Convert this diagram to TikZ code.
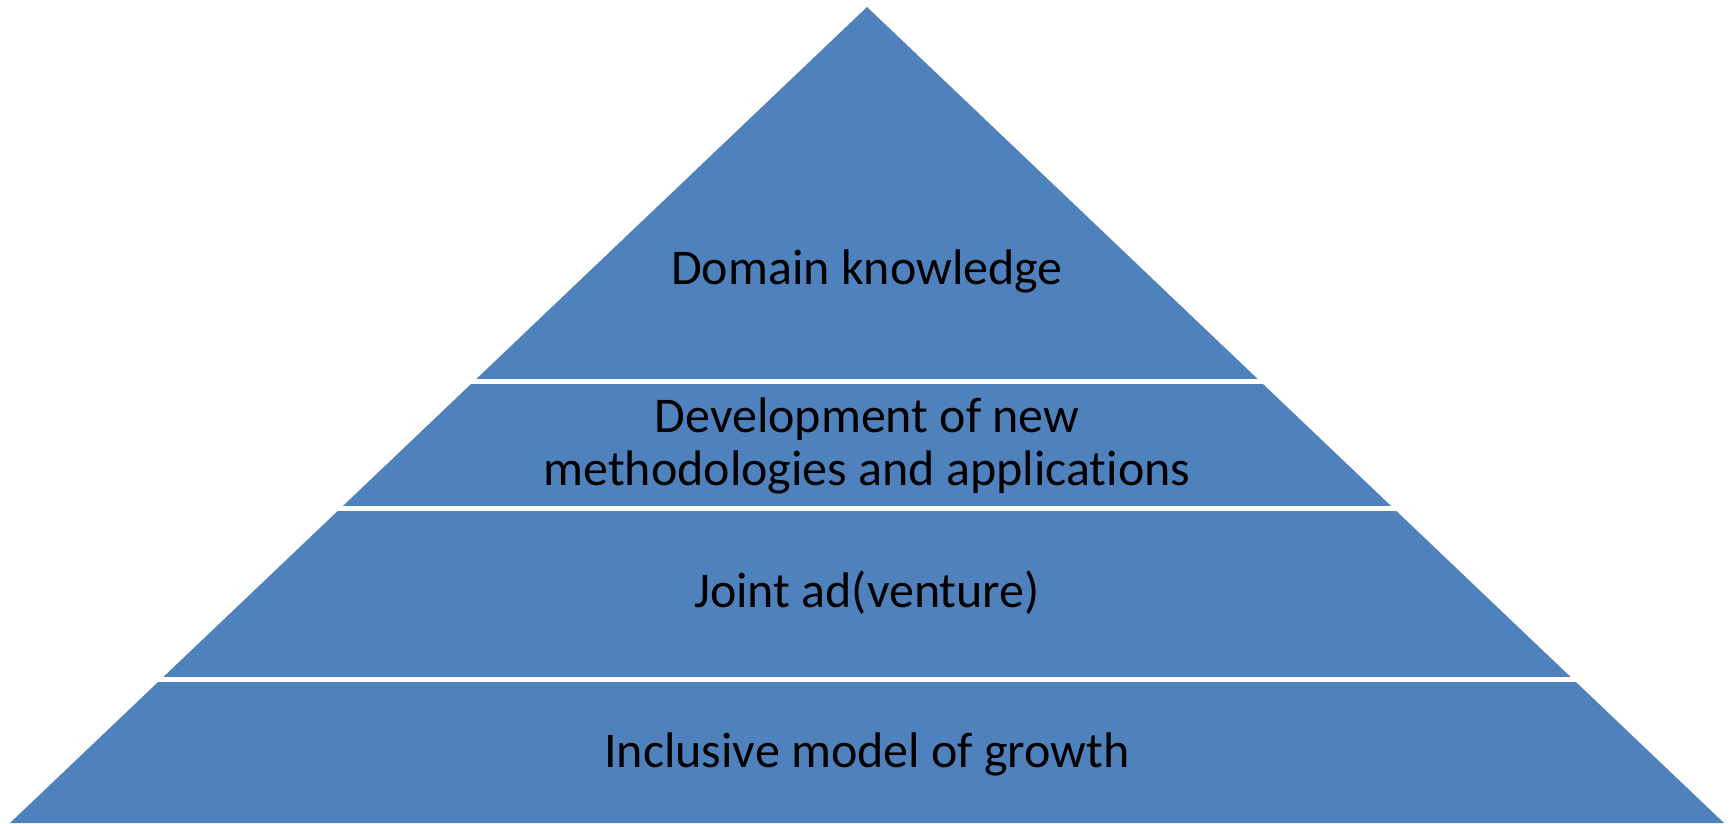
\documentclass[tikz,border=0pt]{standalone}
\usepackage{fontspec}
\setmainfont{Carlito}[Ligatures=NoCommon]
\definecolor{pyrblue}{HTML}{4F81BD}
\tikzset{
  lbl/.style={anchor=base, text=black, inner sep=0pt, align=center, font=\fontsize{50}{53}\selectfont},
  gap/.style={fill=white, draw=none}
}
\begin{document}
\begin{tikzpicture}[x=1pt, y=-1pt]
\useasboundingbox (0,0) rectangle (1730,823);
\fill[white] (0,0) rectangle (1730,823);
% pyramid
\fill[pyrblue] (867,7) -- (1724,823) -- (10,823) -- cycle;
% white separators
\fill[gap] (0,379) rectangle (1730,384);
\fill[gap] (0,505.5) rectangle (1730,510.5);
\fill[gap] (0,676.5) rectangle (1730,681.5);
% labels
\node[lbl] (t1) at (867,284) {Domain knowledge};
\node[lbl] (t2a) at (867,432) {Development of new};
\node[lbl] (t2b) at (867,485) {methodologies and applications};
\node[lbl] (t3) at (867,607) {Joint ad(venture)};
\node[lbl] (t4) at (867,767) {Inclusive model of growth};
\end{tikzpicture}
\end{document}
